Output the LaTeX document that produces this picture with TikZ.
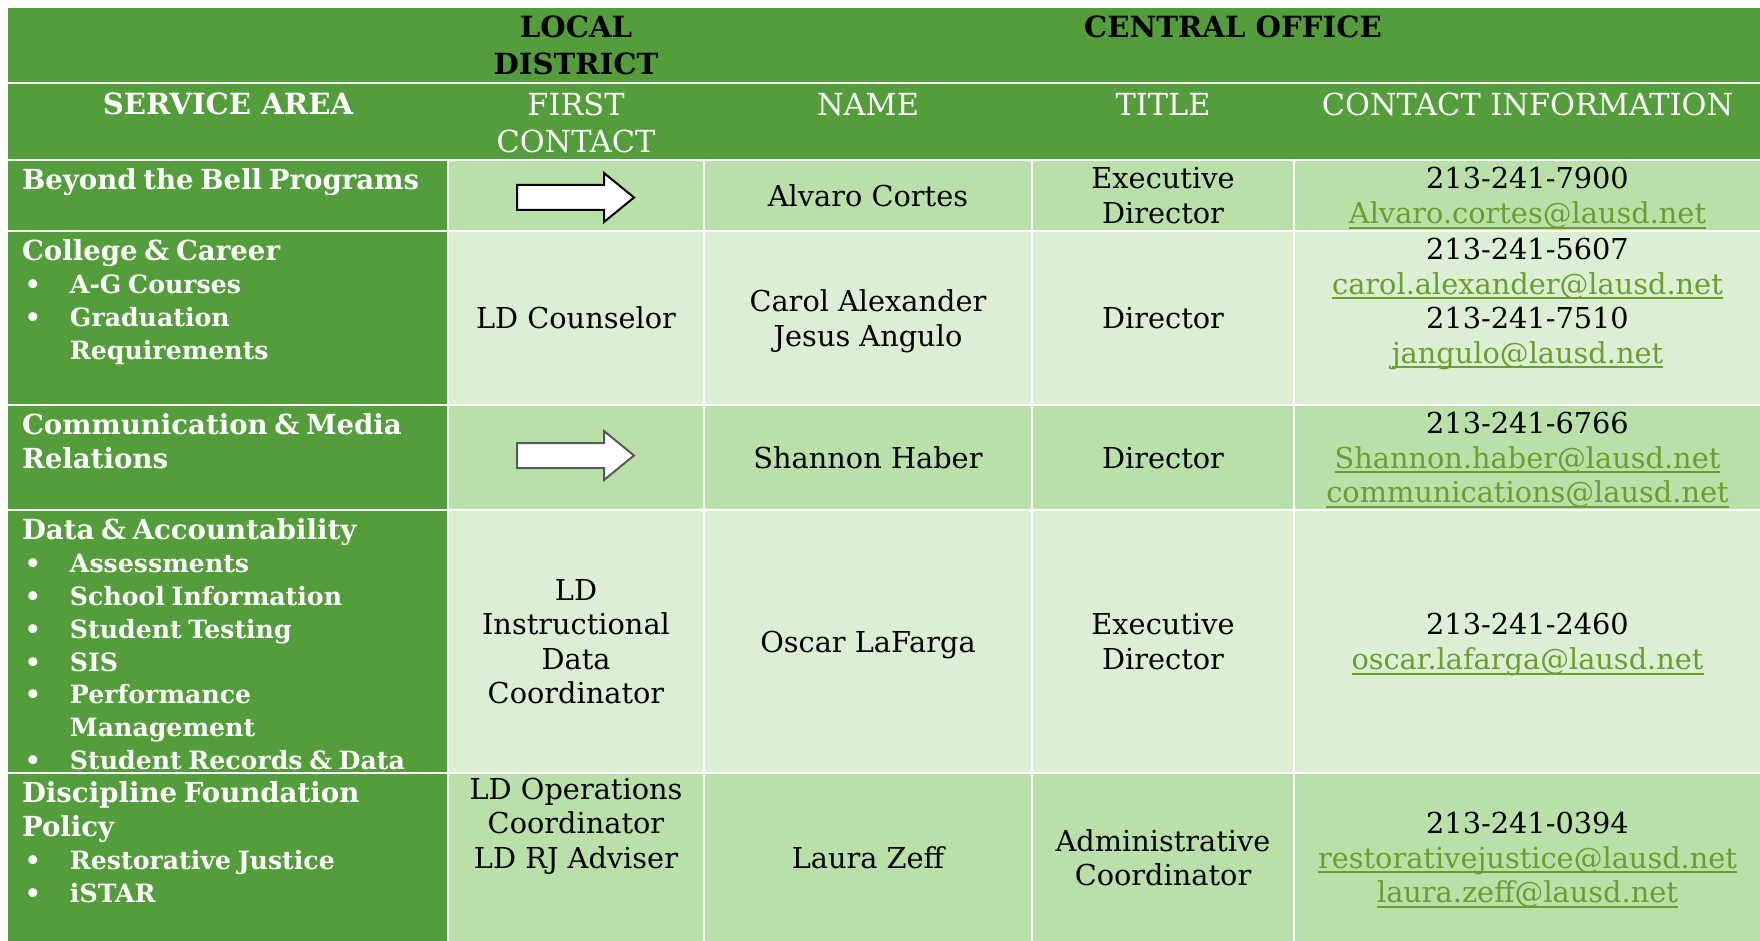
\documentclass[tikz,border=0pt]{standalone}
\usepackage{fontspec}
\setmainfont{DejaVu Serif}
\usepackage{tikz}
\usetikzlibrary{positioning}

\definecolor{hdgreen}{RGB}{83,158,58}
\definecolor{rowmid}{RGB}{184,224,168}
\definecolor{rowlt}{RGB}{220,239,212}
\definecolor{linkgreen}{RGB}{107,158,45}

\newcommand{\hdfont}{\fontsize{15.2}{18.5}\selectfont}
\newcommand{\hdboldfont}{\fontsize{14.6}{18.5}\selectfont\bfseries}
\newcommand{\cellfont}{\fontsize{14.4}{17.25}\selectfont}
\newcommand{\areahd}[1]{{\fontsize{13.8}{17}\selectfont\bfseries\parindent=0pt #1\par}}
\newcommand{\bitem}[1]{{\fontsize{12.6}{16.4}\selectfont\bfseries\parindent=0pt\leftskip=24pt\noindent\llap{\makebox[22.5pt][l]{\textbullet}}#1\par}}
\newsavebox{\lnkbox}
\newcommand{\lnk}[1]{\leavevmode\sbox{\lnkbox}{\color{linkgreen}#1}{\color{linkgreen}\rlap{\rule[-2.65pt]{\wd\lnkbox}{1pt}}}\usebox{\lnkbox}}

\tikzset{
  hdband/.style={shape=rectangle,fill=hdgreen,inner sep=0pt,minimum width=876pt},
  hdbold/.style={inner sep=0pt,align=center,text depth=0pt,font=\hdboldfont},
  hdplain/.style={inner sep=0pt,align=center,text depth=0pt,text=white,font=\hdfont},
  areacell/.style={shape=rectangle,fill=hdgreen,inner sep=0pt,minimum width=219.5pt},
  areatxt/.style={inner sep=0pt,text width=212pt,align=left,text=white},
  cell/.style={shape=rectangle,inner sep=0pt,align=center,text depth=0pt,font=\cellfont},
  midcell/.style={cell,fill=rowmid},
  ltcell/.style={cell,fill=rowlt},
  colB/.style={minimum width=127pt},
  colC/.style={minimum width=163pt},
  colD/.style={minimum width=130pt},
  colE/.style={minimum width=232.5pt},
  rowA/.style={minimum height=34.5pt},
  rowB/.style={minimum height=86pt},
  rowC/.style={minimum height=51.5pt},
  rowD/.style={minimum height=130.5pt},
  rowE/.style={minimum height=83.5pt},
  signarrow/.style={fill=white,draw=black,line width=1pt,line join=miter},
}

\begin{document}
\begin{tikzpicture}[x=0.5pt,y=-0.5pt]

\fill [white] (0,0) rectangle (1760,941);

% header bands
\path (884,45) node [hdband,minimum height=37pt] (topband) {};
\path (884,121.5) node [hdband,minimum height=37.5pt] (colband) {};

\path (576,45.5) node [hdbold] (localHd) {LOCAL\\DISTRICT};
\path (1233,27) node [hdbold] (centralHd) {CENTRAL OFFICE};

\path (228,104) node [hdbold,text=white] (areaHd) {SERVICE AREA};
\path (576,122.5) node [hdplain] (firstHd) {FIRST\\CONTACT};
\path (868,104) node [hdplain] (nameHd) {NAME};
\path (1163,104) node [hdplain] (titleHd) {TITLE};
\path (1527.5,104) node [hdplain] (contactHd) {CONTACT INFORMATION};

% service area column
\path (227.5,195.5) node [areacell,rowA] (bellArea) {};
\node [areatxt,below right=4pt and 7pt of bellArea.north west] (bellAreaTxt) {\areahd{Beyond the Bell Programs}};

\path (227.5,318) node [areacell,rowB] (collegeArea) {};
\node [areatxt,below right=4pt and 7pt of collegeArea.north west] (collegeAreaTxt) {\areahd{College \& Career}\bitem{A-G Courses}\bitem{Graduation\\Requirements}};

\path (227.5,457.5) node [areacell,rowC] (mediaArea) {};
\node [areatxt,below right=4pt and 7pt of mediaArea.north west] (mediaAreaTxt) {\areahd{Communication \& Media\\Relations}};

\path (227.5,641.5) node [areacell,rowD] (dataArea) {};
\node [areatxt,below right=4pt and 7pt of dataArea.north west] (dataAreaTxt) {\areahd{Data \& Accountability}\bitem{Assessments}\bitem{School Information}\bitem{Student Testing}\bitem{SIS}\bitem{Performance\\Management}\bitem{Student Records \& Data}};

\path (227.5,857.5) node [areacell,rowE] (disciplineArea) {};
\node [areatxt,below right=4pt and 7pt of disciplineArea.north west] (disciplineAreaTxt) {\areahd{Discipline Foundation\\Policy}\bitem{Restorative Justice}\bitem{iSTAR}};

% beyond the bell
\path (576,195.5) node [midcell,colB,rowA] (bellFirst) {};
\path (868,195.5) node [midcell,colC,rowA] (bellName) {Alvaro Cortes};
\path (1163,195.5) node [midcell,colD,rowA] (bellTitle) {Executive\\Director};
\path (1527.5,195.5) node [midcell,colE,rowA] (bellContact) {213-241-7900\\\lnk{Alvaro.cortes@lausd.net}};

% college and career
\path (576,318) node [ltcell,colB,rowB] (collegeFirst) {LD Counselor};
\path (868,318) node [ltcell,colC,rowB] (collegeName) {Carol Alexander\\Jesus Angulo};
\path (1163,318) node [ltcell,colD,rowB] (collegeTitle) {Director};
\path (1527.5,318) node [ltcell,colE,rowB] (collegeContact) {213-241-5607\\\lnk{carol.alexander@lausd.net}\\213-241-7510\\\lnk{jangulo@lausd.net}\\\mbox{}};

% communication
\path (576,457.5) node [midcell,colB,rowC] (mediaFirst) {};
\path (868,457.5) node [midcell,colC,rowC] (mediaName) {Shannon Haber};
\path (1163,457.5) node [midcell,colD,rowC] (mediaTitle) {Director};
\path (1527.5,457.5) node [midcell,colE,rowC] (mediaContact) {213-241-6766\\\lnk{Shannon.haber@lausd.net}\\\lnk{communications@lausd.net}};

% data
\path (576,641.5) node [ltcell,colB,rowD] (dataFirst) {LD\\Instructional\\Data\\Coordinator};
\path (868,641.5) node [ltcell,colC,rowD] (dataName) {Oscar LaFarga};
\path (1163,641.5) node [ltcell,colD,rowD] (dataTitle) {Executive\\Director};
\path (1527.5,641.5) node [ltcell,colE,rowD] (dataContact) {213-241-2460\\\lnk{oscar.lafarga@lausd.net}};

% discipline
\path (576,857.5) node [midcell,colB,rowE] (disciplineFirst) {LD Operations\\Coordinator\\LD RJ Adviser\\\mbox{}\\\mbox{}};
\path (868,857.5) node [midcell,colC,rowE] (disciplineName) {Laura Zeff};
\path (1163,857.5) node [midcell,colD,rowE] (disciplineTitle) {Administrative\\Coordinator};
\path (1527.5,857.5) node [midcell,colE,rowE] (disciplineContact) {213-241-0394\\\lnk{restorativejustice@lausd.net}\\\lnk{laura.zeff@lausd.net}};

% arrows in first contact column
\draw [signarrow] (517,185) -- (604,185) -- (604,173) -- (634,197.5) -- (604,222) -- (604,210) -- (517,210) -- cycle;
\draw [signarrow,draw=black!65] (517,443) -- (604,443) -- (604,431) -- (634,455.5) -- (604,480) -- (604,468) -- (517,468) -- cycle;

\end{tikzpicture}
\end{document}
